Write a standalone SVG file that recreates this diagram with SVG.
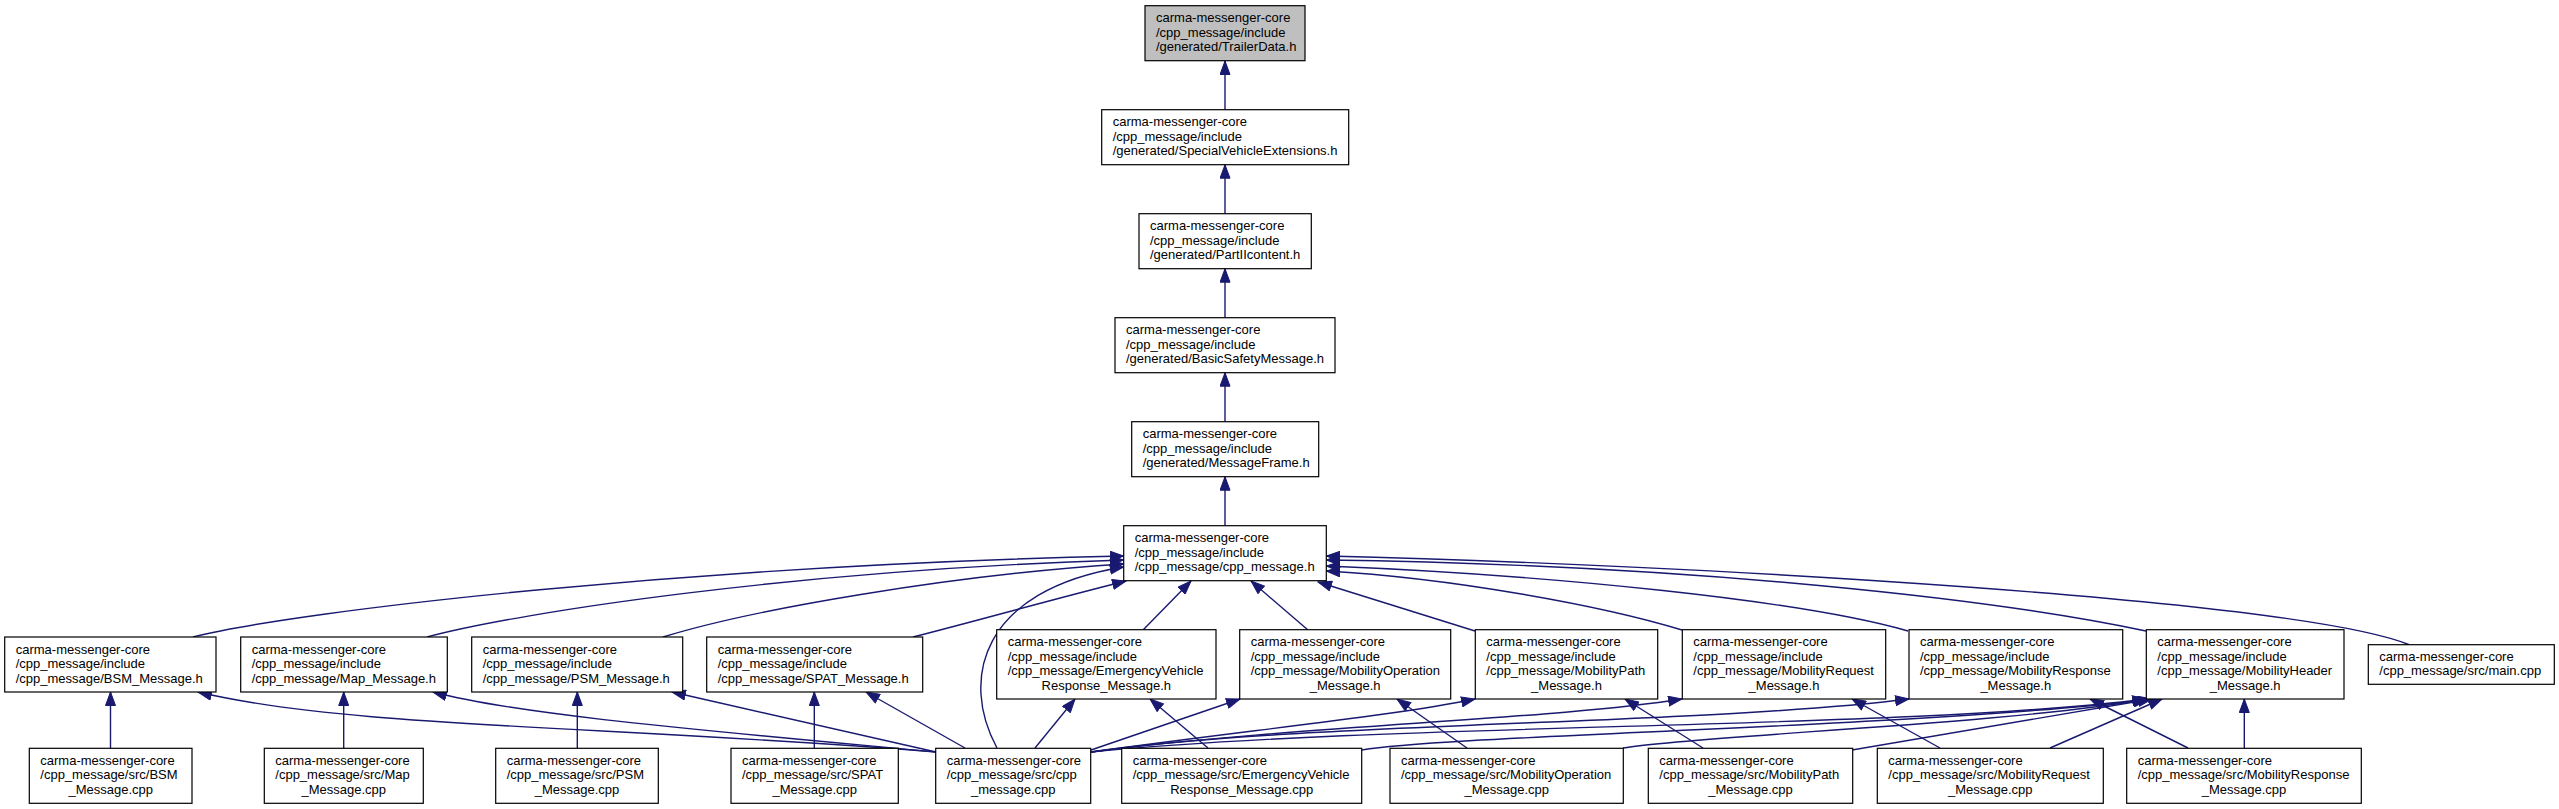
<svg xmlns="http://www.w3.org/2000/svg" width="2559" height="809" viewBox="0 0 2559 809">
<style>
.box{fill:#fff;stroke:#000;stroke-width:1.2}
.cur{fill:#bfbfbf;stroke:#000;stroke-width:1.2}
text{font-family:"Liberation Sans",Arial,sans-serif;font-size:13px;fill:#000}
.c{text-anchor:middle}
.e{fill:none;stroke:#191970;stroke-width:1.4;marker-end:url(#ah)}
</style>
<defs>
<marker id="ah" markerWidth="15" markerHeight="11" refX="14" refY="5.5" orient="auto" markerUnits="userSpaceOnUse">
<path d="M0.5,0.5 L14,5.5 L0.5,10.5 z" fill="#191970" stroke="#191970" stroke-width="1"/>
</marker>
</defs>
<rect width="2559" height="809" fill="#fff"/>
<g id="edges">
<path class="e" d="M1225,109.7 L1225,61"/>
<path class="e" d="M1225,213.7 L1225,164.7"/>
<path class="e" d="M1225,317.7 L1225,268.7"/>
<path class="e" d="M1225,421.7 L1225,372.7"/>
<path class="e" d="M1225,525.7 L1225,476.7"/>
<path class="e" d="M193,637 C300,610 700,565 1123.7,556"/>
<path class="e" d="M427,637 C520,612 800,570 1123.7,560"/>
<path class="e" d="M663,637 C750,610 950,575 1123.7,564"/>
<path class="e" d="M913,637 C980,620 1050,600 1126,581"/>
<path class="e" d="M997,748 C960,680 980,590 1123.7,567"/>
<path class="e" d="M1143,630 L1191,581"/>
<path class="e" d="M1308,630 L1251,581"/>
<path class="e" d="M1475,631 L1318,582"/>
<path class="e" d="M1682,630 C1600,605 1450,578 1326.3,571"/>
<path class="e" d="M1908,631 C1800,600 1550,575 1326.3,566"/>
<path class="e" d="M2146,631 C2000,600 1700,565 1326.3,560"/>
<path class="e" d="M2410,645 C2300,600 1700,565 1326.3,556"/>
<path class="e" d="M110.5,748.3 L110.5,692"/>
<path class="e" d="M343.7,748.3 L343.7,692"/>
<path class="e" d="M577.3,748.3 L577.3,692"/>
<path class="e" d="M814.3,748.3 L814.3,692"/>
<path class="e" d="M2244.3,748.3 L2244.3,699"/>
<path class="e" d="M936,752 C600,725 350,728 198,692"/>
<path class="e" d="M936,752 C700,730 520,715 433,692"/>
<path class="e" d="M936,752 L672,692"/>
<path class="e" d="M965,748 L866,692"/>
<path class="e" d="M1035,748 L1075,699"/>
<path class="e" d="M1091,750 L1240,699"/>
<path class="e" d="M1091,752 C1250,730 1400,715 1475,699"/>
<path class="e" d="M1091,752 C1300,725 1550,720 1682,699"/>
<path class="e" d="M1091,752 C1300,722 1700,725 1909,699"/>
<path class="e" d="M1091,752 C1400,722 1900,730 2146,699"/>
<path class="e" d="M1208,748 L1150,699"/>
<path class="e" d="M1362,750 C1450,735 1900,728 2147,700"/>
<path class="e" d="M1467,748 L1397,699"/>
<path class="e" d="M1623,748 C1700,735 2000,725 2148,699"/>
<path class="e" d="M1703,748 L1625,699"/>
<path class="e" d="M1852,750 L2152,699"/>
<path class="e" d="M1940,748 L1852,699"/>
<path class="e" d="M2050,748 L2162,699"/>
<path class="e" d="M2188,748 L2090,699"/>
</g>
<g id="n0"><rect class="cur" x="1145" y="5.7" width="160" height="55"/><text x="1156" y="22.2">carma-messenger-core</text><text x="1156" y="36.7">/cpp_message/include</text><text x="1156" y="51.2">/generated/TrailerData.h</text></g>
<g id="n1"><rect class="box" x="1101.7" y="109.7" width="247" height="55"/><text x="1112.7" y="126.2">carma-messenger-core</text><text x="1112.7" y="140.7">/cpp_message/include</text><text x="1112.7" y="155.2">/generated/SpecialVehicleExtensions.h</text></g>
<g id="n2"><rect class="box" x="1139" y="213.7" width="172.3" height="55"/><text x="1150" y="230.2">carma-messenger-core</text><text x="1150" y="244.7">/cpp_message/include</text><text x="1150" y="259.2">/generated/PartIIcontent.h</text></g>
<g id="n3"><rect class="box" x="1115" y="317.7" width="220" height="55"/><text x="1126" y="334.2">carma-messenger-core</text><text x="1126" y="348.7">/cpp_message/include</text><text x="1126" y="363.2">/generated/BasicSafetyMessage.h</text></g>
<g id="n4"><rect class="box" x="1131.7" y="421.7" width="187" height="55"/><text x="1142.7" y="438.2">carma-messenger-core</text><text x="1142.7" y="452.7">/cpp_message/include</text><text x="1142.7" y="467.2">/generated/MessageFrame.h</text></g>
<g id="n5"><rect class="box" x="1123.7" y="525.7" width="202.6" height="55"/><text x="1134.7" y="542.2">carma-messenger-core</text><text x="1134.7" y="556.7">/cpp_message/include</text><text x="1134.7" y="571.2">/cpp_message/cpp_message.h</text></g>
<g id="n6"><rect class="box" x="4.7" y="637" width="211.3" height="55"/><text x="15.7" y="653.5">carma-messenger-core</text><text x="15.7" y="668">/cpp_message/include</text><text x="15.7" y="682.5">/cpp_message/BSM_Message.h</text></g>
<g id="n7"><rect class="box" x="240.7" y="637" width="206.6" height="55"/><text x="251.7" y="653.5">carma-messenger-core</text><text x="251.7" y="668">/cpp_message/include</text><text x="251.7" y="682.5">/cpp_message/Map_Message.h</text></g>
<g id="n8"><rect class="box" x="471.7" y="637" width="211" height="55"/><text x="482.7" y="653.5">carma-messenger-core</text><text x="482.7" y="668">/cpp_message/include</text><text x="482.7" y="682.5">/cpp_message/PSM_Message.h</text></g>
<g id="n9"><rect class="box" x="706.7" y="637" width="216" height="55"/><text x="717.7" y="653.5">carma-messenger-core</text><text x="717.7" y="668">/cpp_message/include</text><text x="717.7" y="682.5">/cpp_message/SPAT_Message.h</text></g>
<g id="n10"><rect class="box" x="996.7" y="629.7" width="219.3" height="69.3"/><text x="1007.7" y="646.1">carma-messenger-core</text><text x="1007.7" y="660.6">/cpp_message/include</text><text x="1007.7" y="675.1">/cpp_message/EmergencyVehicle</text><text class="c" x="1106.3" y="689.6">Response_Message.h</text></g>
<g id="n11"><rect class="box" x="1239.7" y="629.7" width="211" height="69.3"/><text x="1250.7" y="646.1">carma-messenger-core</text><text x="1250.7" y="660.6">/cpp_message/include</text><text x="1250.7" y="675.1">/cpp_message/MobilityOperation</text><text class="c" x="1345.2" y="689.6">_Message.h</text></g>
<g id="n12"><rect class="box" x="1475.3" y="629.7" width="182.4" height="69.3"/><text x="1486.3" y="646.1">carma-messenger-core</text><text x="1486.3" y="660.6">/cpp_message/include</text><text x="1486.3" y="675.1">/cpp_message/MobilityPath</text><text class="c" x="1566.5" y="689.6">_Message.h</text></g>
<g id="n13"><rect class="box" x="1682.3" y="629.7" width="203.4" height="69.3"/><text x="1693.3" y="646.1">carma-messenger-core</text><text x="1693.3" y="660.6">/cpp_message/include</text><text x="1693.3" y="675.1">/cpp_message/MobilityRequest</text><text class="c" x="1784" y="689.6">_Message.h</text></g>
<g id="n14"><rect class="box" x="1909" y="629.7" width="213.7" height="69.3"/><text x="1920" y="646.1">carma-messenger-core</text><text x="1920" y="660.6">/cpp_message/include</text><text x="1920" y="675.1">/cpp_message/MobilityResponse</text><text class="c" x="2015.8" y="689.6">_Message.h</text></g>
<g id="n15"><rect class="box" x="2146.3" y="629.7" width="197.7" height="69.3"/><text x="2157.3" y="646.1">carma-messenger-core</text><text x="2157.3" y="660.6">/cpp_message/include</text><text x="2157.3" y="675.1">/cpp_message/MobilityHeader</text><text class="c" x="2245.2" y="689.6">_Message.h</text></g>
<g id="n16"><rect class="box" x="2368.3" y="644.7" width="186" height="39.6"/><text x="2379.3" y="660.7">carma-messenger-core</text><text x="2379.3" y="675.2">/cpp_message/src/main.cpp</text></g>
<g id="n17"><rect class="box" x="29.3" y="748.3" width="162.7" height="55"/><text x="40.3" y="764.8">carma-messenger-core</text><text x="40.3" y="779.3">/cpp_message/src/BSM</text><text class="c" x="110.7" y="793.8">_Message.cpp</text></g>
<g id="n18"><rect class="box" x="264.3" y="748.3" width="159" height="55"/><text x="275.3" y="764.8">carma-messenger-core</text><text x="275.3" y="779.3">/cpp_message/src/Map</text><text class="c" x="343.8" y="793.8">_Message.cpp</text></g>
<g id="n19"><rect class="box" x="495.7" y="748.3" width="162.6" height="55"/><text x="506.7" y="764.8">carma-messenger-core</text><text x="506.7" y="779.3">/cpp_message/src/PSM</text><text class="c" x="577" y="793.8">_Message.cpp</text></g>
<g id="n20"><rect class="box" x="731" y="748.3" width="167.3" height="55"/><text x="742" y="764.8">carma-messenger-core</text><text x="742" y="779.3">/cpp_message/src/SPAT</text><text class="c" x="814.7" y="793.8">_Message.cpp</text></g>
<g id="n21"><rect class="box" x="935.7" y="748.3" width="155" height="55"/><text x="946.7" y="764.8">carma-messenger-core</text><text x="946.7" y="779.3">/cpp_message/src/cpp</text><text class="c" x="1013.2" y="793.8">_message.cpp</text></g>
<g id="n22"><rect class="box" x="1121.7" y="748.3" width="240" height="55"/><text x="1132.7" y="764.8">carma-messenger-core</text><text x="1132.7" y="779.3">/cpp_message/src/EmergencyVehicle</text><text class="c" x="1241.7" y="793.8">Response_Message.cpp</text></g>
<g id="n23"><rect class="box" x="1390" y="748.3" width="233.3" height="55"/><text x="1401" y="764.8">carma-messenger-core</text><text x="1401" y="779.3">/cpp_message/src/MobilityOperation</text><text class="c" x="1506.7" y="793.8">_Message.cpp</text></g>
<g id="n24"><rect class="box" x="1648.3" y="748.3" width="204.4" height="55"/><text x="1659.3" y="764.8">carma-messenger-core</text><text x="1659.3" y="779.3">/cpp_message/src/MobilityPath</text><text class="c" x="1750.5" y="793.8">_Message.cpp</text></g>
<g id="n25"><rect class="box" x="1877.3" y="748.3" width="226" height="55"/><text x="1888.3" y="764.8">carma-messenger-core</text><text x="1888.3" y="779.3">/cpp_message/src/MobilityRequest</text><text class="c" x="1990.3" y="793.8">_Message.cpp</text></g>
<g id="n26"><rect class="box" x="2126.7" y="748.3" width="234.6" height="55"/><text x="2137.7" y="764.8">carma-messenger-core</text><text x="2137.7" y="779.3">/cpp_message/src/MobilityResponse</text><text class="c" x="2244" y="793.8">_Message.cpp</text></g>
</svg>
